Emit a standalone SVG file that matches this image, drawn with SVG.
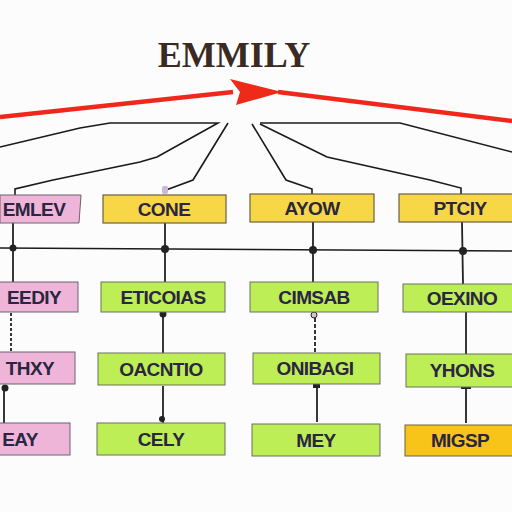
<svg xmlns="http://www.w3.org/2000/svg" width="512" height="512" viewBox="0 0 512 512">
<style>
.pink{fill:#efb5d8;stroke:#6b6270;stroke-width:1}
.yel{fill:#f8d746;stroke:#6b6040;stroke-width:1.2}
.grn{fill:#bdee55;stroke:#6b7060;stroke-width:1}
.gold{fill:#f8c419;stroke:#6b6040;stroke-width:1}
.lbl{font-family:"Liberation Sans",Arial,sans-serif;font-weight:bold;font-size:19px;fill:#2a2540;text-anchor:middle;letter-spacing:-0.6px}
.ln{fill:none;stroke:#1a1a1a;stroke-width:1.6}
.vl{fill:none;stroke:#222;stroke-width:1.8}
.dot{fill:#222}
</style>
<rect width="512" height="512" fill="#fcfcfd"/>
<text x="234" y="67" font-family="Liberation Serif,serif" font-weight="bold" font-size="36" fill="#3b2a22" text-anchor="middle">EMMILY</text>

<g id="connectors">
  <path d="M0,117 L233,92" stroke="#f0281c" stroke-width="4.5" fill="none"/>
  <path d="M278,92 L512,121" stroke="#f0281c" stroke-width="4.5" fill="none"/>
  <path d="M230,79 L282,92 L236,105 L240,92 Z" fill="#ef2a18"/>
  <path d="M0,147 L80,128 L110,123 L218,123 L157,157 L140,162 L53,180 L15,189 L15,195" class="ln"/>
  <path d="M228,123 L193,180 L166,190" class="ln"/>
  <path d="M252,124 L286,180 L312,189 L312,194" class="ln"/>
  <path d="M260,124 L327,157 L430,180 L461,188 L461,194" class="ln"/>
  <path d="M260,123 L400,123 L512,152" class="ln"/>
  <rect x="162" y="186" width="6" height="8" rx="2" fill="#c9b8dc"/>
  <path d="M0,248 L512,251" class="ln"/>
  <path d="M13,223 L13,282" class="vl"/>
  <path d="M165,223 L165,282" class="vl"/>
  <path d="M313,222 L313,282" class="vl"/>
  <path d="M462,222 L463,284" class="vl"/>
  <circle cx="13" cy="248" r="3.5" class="dot"/>
  <circle cx="165" cy="249" r="4" class="dot"/>
  <circle cx="313" cy="250" r="4" class="dot"/>
  <circle cx="463" cy="251" r="4" class="dot"/>
  <path d="M11,313 L11,352" class="vl" stroke-dasharray="3,2"/>
  <path d="M163,313 L163,353" class="vl"/>
  <circle cx="163" cy="314" r="3.5" class="dot"/>
  <path d="M315,318 L315,353" class="vl" stroke-dasharray="4,2"/>
  <circle cx="314" cy="315" r="3" fill="#d8c0d0" stroke="#222" stroke-width="1"/>
  <path d="M466,312 L466,354" class="vl"/>
  <path d="M4,387 L4,423" class="vl"/>
  <circle cx="5" cy="388" r="3.5" class="dot"/>
  <path d="M163,386 L163,423" class="vl"/>
  <circle cx="162" cy="419" r="3" class="dot"/>
  <path d="M317,386 L317,422" class="vl"/>
  <rect x="313" y="384" width="7" height="4" class="dot"/>
  <path d="M466,388 L466,423 M461,388 L471,388" class="vl"/>
</g>

<g id="n-r1c1"><path d="M0,195 L81,195 L79,223 L0,223 Z" class="pink"/><text x="34" y="216" class="lbl">EMLEV</text></g>
<g id="n-r1c2"><rect x="103" y="195" width="123" height="28" class="yel"/><text x="164" y="216" class="lbl">CONE</text></g>
<g id="n-r1c3"><rect x="250" y="194" width="124" height="28" class="yel"/><text x="312" y="215" class="lbl">AYOW</text></g>
<g id="n-r1c4"><rect x="399" y="194" width="115" height="28" class="yel"/><text x="460" y="215" class="lbl">PTCIY</text></g>

<g id="n-r2c1"><rect x="-2" y="282" width="80" height="30" class="pink"/><text x="34" y="304" class="lbl">EEDIY</text></g>
<g id="n-r2c2"><rect x="101" y="282" width="124" height="30" class="grn"/><text x="163" y="304" class="lbl">ETICOIAS</text></g>
<g id="n-r2c3"><rect x="250" y="282" width="128" height="30" class="grn"/><text x="314" y="304" class="lbl">CIMSAB</text></g>
<g id="n-r2c4"><rect x="403" y="284" width="111" height="28" class="grn"/><text x="462" y="305" class="lbl">OEXINO</text></g>

<g id="n-r3c1"><rect x="-2" y="352" width="77" height="32" class="pink"/><text x="30" y="375" class="lbl">THXY</text></g>
<g id="n-r3c2"><rect x="98" y="353" width="127" height="32" class="grn"/><text x="161" y="376" class="lbl">OACNTIO</text></g>
<g id="n-r3c3"><rect x="253" y="353" width="127" height="31" class="grn"/><text x="315" y="375" class="lbl">ONIBAGI</text></g>
<g id="n-r3c4"><rect x="406" y="354" width="108" height="33" class="grn"/><text x="462" y="377" class="lbl">YHONS</text></g>

<g id="n-r4c1"><rect x="-2" y="423" width="72" height="32" class="pink"/><text x="20" y="446" class="lbl">EAY</text></g>
<g id="n-r4c2"><rect x="97" y="423" width="128" height="32" class="grn"/><text x="161" y="446" class="lbl">CELY</text></g>
<g id="n-r4c3"><rect x="252" y="424" width="128" height="32" class="grn"/><text x="316" y="447" class="lbl">MEY</text></g>
<g id="n-r4c4"><rect x="405" y="425" width="109" height="31" class="gold"/><text x="460" y="447" class="lbl">MIGSP</text></g>
</svg>
